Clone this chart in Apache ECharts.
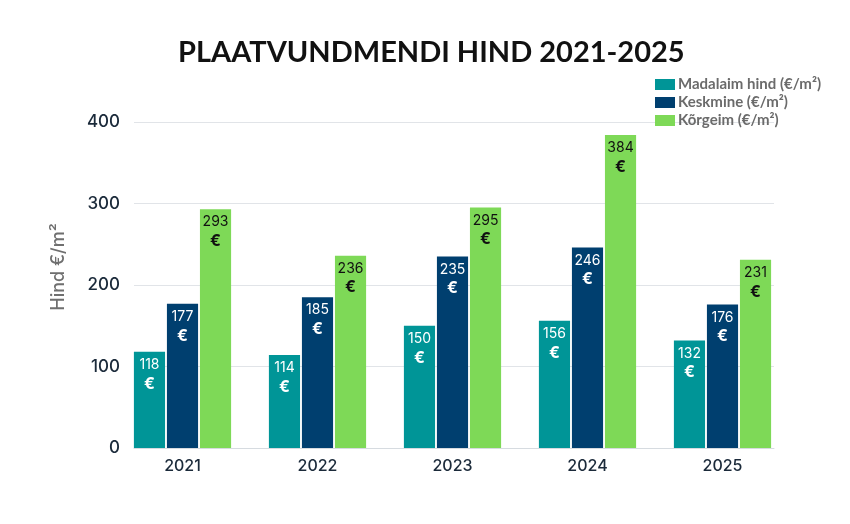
<!DOCTYPE html>
<html>
<head>
<meta charset="utf-8">
<script src="https://cdn.jsdelivr.net/npm/echarts@6/dist/echarts.min.js"></script>
<style>
  html, body { margin: 0; padding: 0; background: #fff; }
  #main { width: 850px; height: 524px; }
</style>
</head>
<body>
<div id="main"></div>
<script>
// andmed
var years = ['2021', '2022', '2023', '2024', '2025'];
var madalaim = [118, 114, 150, 156, 132];
var keskmine = [177, 185, 235, 246, 176];
var korgeim = [293, 236, 295, 384, 231];
var yTicks = [0, 100, 200, 300, 400];

var chart = echarts.init(document.getElementById('main'));

function barLabel(color) {
  return {
    show: true,
    position: 'insideTop',
    distance: 4,
    formatter: function (p) { return '{v|' + p.value + '}\n{e|€}'; },
    rich: {
      v: { color: color, fontFamily: 'Inter', fontSize: 14, lineHeight: 18 },
      e: { color: color, fontFamily: 'Inter', fontSize: 16, fontWeight: 'bold', lineHeight: 20 }
    }
  };
}

var option = {
  backgroundColor: '#ffffff',
  title: {
    text: 'PLAATVUNDMENDI HIND 2021-2025',
    left: 173,
    top: 33,
    textStyle: { fontFamily: 'Lato', fontWeight: 'bold', fontSize: 29, color: '#111111' }
  },
  legend: {
    orient: 'vertical',
    left: 655,
    top: 77,
    padding: 0,
    itemWidth: 20,
    itemHeight: 11,
    itemGap: 3,
    icon: 'rect',
    textStyle: { fontFamily: 'Lato', fontWeight: 'bold', fontSize: 15, color: '#6b6b6b', padding: [0, 0, 0, -2] },
    data: ['Madalaim hind (€/m²)', 'Keskmine (€/m²)', 'Kõrgeim (€/m²)']
  },
  graphic: [{
    type: 'text',
    x: 59,
    y: 267,
    rotation: Math.PI / 2,
    style: {
      text: 'Hind €/m²',
      fontFamily: 'Inter', fontSize: 18, fontWeight: 500, fill: '#6f6f6f',
      align: 'center', verticalAlign: 'middle'
    }
  }],
  grid: [
    { left: 115, right: 60, top: 122, bottom: 76 },
    { left: 134, right: 76, top: 122, bottom: 76 }
  ],
  xAxis: [
    {
      type: 'category', gridIndex: 0, data: years,
      axisLine: { show: false }, axisTick: { show: false },
      axisLabel: { fontFamily: 'Inter', fontSize: 16, fontWeight: 500, color: '#1b2a3a', margin: 10 }
    },
    {
      type: 'category', gridIndex: 1, data: years,
      axisLine: { show: true, lineStyle: { color: '#d6dbe0', width: 1 } },
      axisTick: { show: false }, axisLabel: { show: false }
    }
  ],
  yAxis: [
    { type: 'value', gridIndex: 0, min: 0, max: 400, show: false, splitLine: { show: false } },
    {
      type: 'value', gridIndex: 1, min: 0, max: 400, interval: 100,
      axisLine: { show: false }, axisTick: { show: false },
      axisLabel: {
        fontFamily: 'Inter', fontSize: 17, fontWeight: 500, color: '#1b2a3a', margin: 14,
        formatter: function (v) { return yTicks.indexOf(v) >= 0 ? String(v) : ''; }
      },
      splitLine: { lineStyle: { color: '#e1e4e8', width: 1 } }
    }
  ],
  series: [
    {
      name: 'Madalaim hind (€/m²)', type: 'bar', data: madalaim,
      xAxisIndex: 0, yAxisIndex: 0,
      barCategoryGap: '28%', barGap: '6%',
      itemStyle: { color: '#009597' },
      label: barLabel('#ffffff')
    },
    {
      name: 'Keskmine (€/m²)', type: 'bar', data: keskmine,
      xAxisIndex: 0, yAxisIndex: 0,
      barCategoryGap: '28%', barGap: '6%',
      itemStyle: { color: '#003f6f' },
      label: barLabel('#ffffff')
    },
    {
      name: 'Kõrgeim (€/m²)', type: 'bar', data: korgeim,
      xAxisIndex: 0, yAxisIndex: 0,
      barCategoryGap: '28%', barGap: '6%',
      itemStyle: { color: '#7ed957' },
      label: barLabel('#111111')
    }
  ]
};

chart.setOption(option);
</script>
</body>
</html>
